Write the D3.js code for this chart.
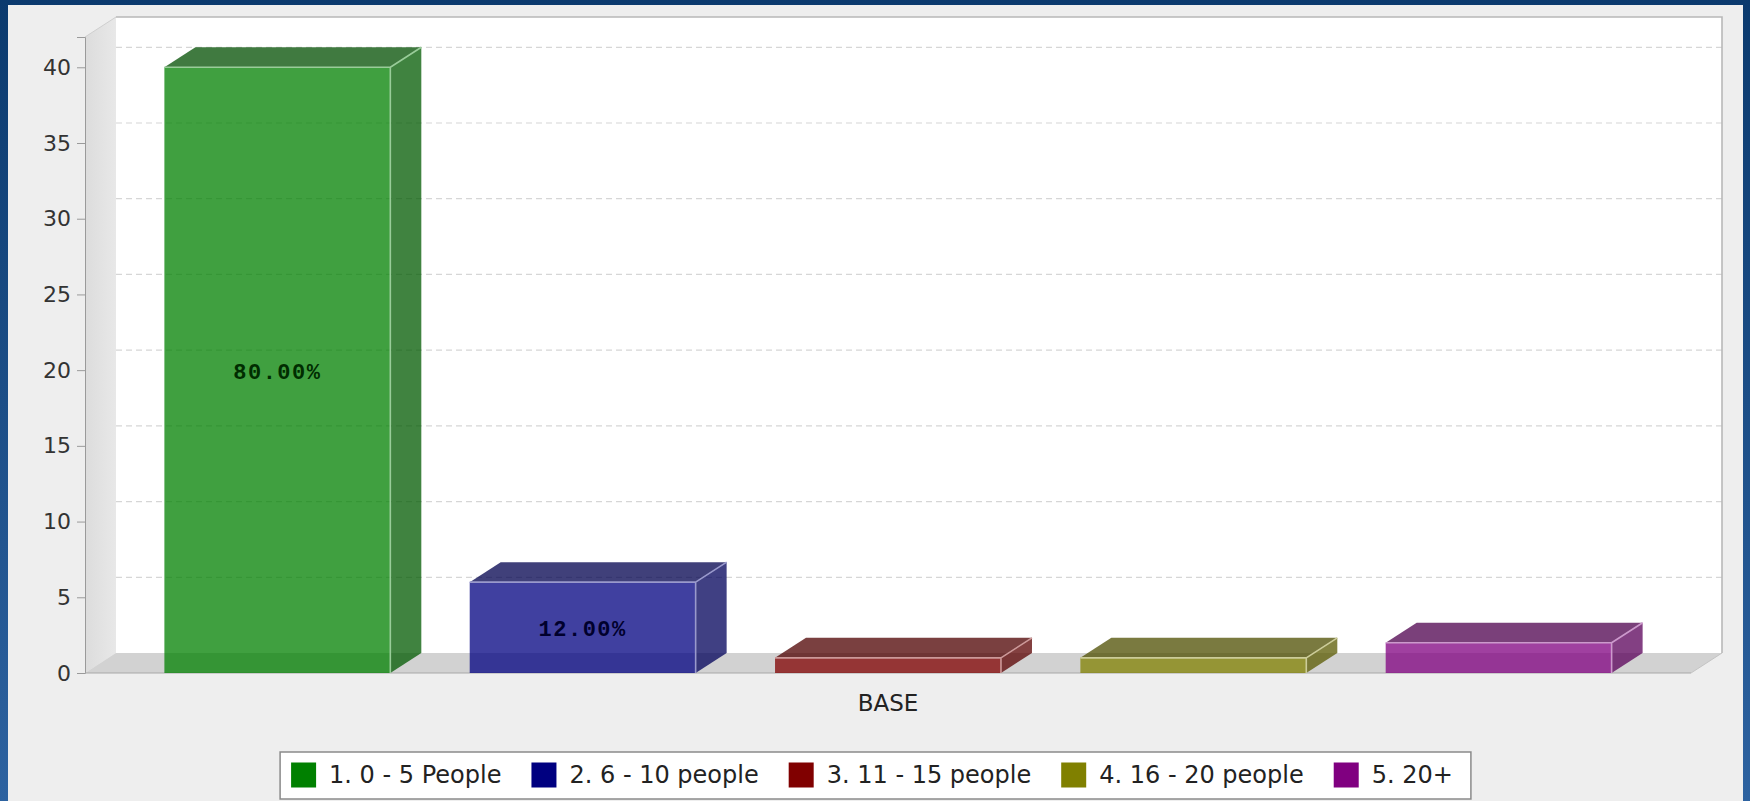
<!DOCTYPE html>
<html>
<head>
<meta charset="utf-8">
<script src="https://cdn.jsdelivr.net/npm/d3@7/dist/d3.min.js"></script>
<style>
  html, body { margin: 0; padding: 0; background: #0b3a6e; }
  svg { display: block; }
</style>
</head>
<body>
<svg id="chart" width="1750" height="801"></svg>
<script>
// Team size distribution (single category, five series)
const categories = ["BASE"];
const seriesNames = ["1. 0 - 5 People", "2. 6 - 10 people", "3. 11 - 15 people", "4. 16 - 20 people", "5. 20+"];
const seriesValues = [40, 6, 1, 1, 2];
const seriesColors = ["#008000", "#000080", "#800000", "#808000", "#800080"];
const yTickValues = [0, 5, 10, 15, 20, 25, 30, 35, 40];
const yMax = 42;

const W = 1750, H = 801;
const uiFont = "'DejaVu Sans', Verdana, sans-serif";
const svg = d3.select("#chart");
const defs = svg.append("defs");

// page frame gradient
const bgGrad = defs.append("linearGradient").attr("id", "bg").attr("x1", 0).attr("y1", 0).attr("x2", 0).attr("y2", 1);
bgGrad.append("stop").attr("offset", "0%").attr("stop-color", "#0b3a6e");
bgGrad.append("stop").attr("offset", "100%").attr("stop-color", "#2d62a0");
svg.append("rect").attr("width", W).attr("height", H).attr("fill", "url(#bg)");

// chart panel
const panel = { x: 8, y: 5, w: 1735, h: 796 };
svg.append("rect").attr("x", panel.x).attr("y", panel.y).attr("width", panel.w).attr("height", panel.h).attr("fill", "#eeeeee");

// 3D plot geometry
const depthX = 31, depthY = 20;
const plotLeft = 85, plotRight = 1691, plotBottom = 673, plotTop = 37;

const y = d3.scaleLinear().domain([0, yMax]).range([plotBottom, plotTop]);
const xCat = d3.scaleBand().domain(categories).range([plotLeft, plotRight]).padding(0);
const xSeries = d3.scaleBand().domain(seriesNames).range([0, xCat.bandwidth()])
  .paddingInner(0.26).paddingOuter(0.26);

// left wall
const wallGrad = defs.append("linearGradient").attr("id", "wall").attr("x1", 0).attr("y1", 0).attr("x2", 1).attr("y2", 0);
wallGrad.append("stop").attr("offset", "0%").attr("stop-color", "#dcdcdc");
wallGrad.append("stop").attr("offset", "100%").attr("stop-color", "#e8e8e8");
svg.append("polygon")
  .attr("points", [[plotLeft, plotTop], [plotLeft + depthX, plotTop - depthY], [plotLeft + depthX, plotBottom - depthY], [plotLeft, plotBottom]].join(" "))
  .attr("fill", "url(#wall)");

// back wall
svg.append("rect")
  .attr("x", plotLeft + depthX).attr("y", plotTop - depthY)
  .attr("width", plotRight - plotLeft).attr("height", plotBottom - plotTop)
  .attr("fill", "#ffffff");

// floor
svg.append("polygon")
  .attr("points", [[plotLeft, plotBottom], [plotLeft + depthX, plotBottom - depthY], [plotRight + depthX, plotBottom - depthY], [plotRight, plotBottom]].join(" "))
  .attr("fill", "#d2d2d2");

// grid lines on the back wall
svg.append("g").selectAll("line").data(yTickValues.filter(d => d > 0)).join("line")
  .attr("x1", plotLeft + depthX).attr("x2", plotRight + depthX)
  .attr("y1", d => y(d) - depthY).attr("y2", d => y(d) - depthY)
  .attr("stroke", "#d6d6d6").attr("stroke-width", 1.2).attr("stroke-dasharray", "6,4");

// back wall border (top and right)
svg.append("path")
  .attr("d", `M${plotLeft + depthX},${plotTop - depthY}H${plotRight + depthX}V${plotBottom - depthY}`)
  .attr("fill", "none").attr("stroke", "#b8b8b8").attr("stroke-width", 1.6);
svg.append("line")
  .attr("x1", plotLeft).attr("y1", plotTop).attr("x2", plotLeft + depthX).attr("y2", plotTop - depthY)
  .attr("stroke", "#cfcfcf");
svg.append("line")
  .attr("x1", plotRight).attr("y1", plotBottom).attr("x2", plotRight + depthX).attr("y2", plotBottom - depthY)
  .attr("stroke", "#c4c4c4");

// y axis
const yAxis = d3.axisLeft(y).tickValues(yTickValues).tickSize(8).tickPadding(6);
const gy = svg.append("g").attr("transform", `translate(${plotLeft},0)`).call(yAxis);
gy.select(".domain").attr("stroke", "#9a9a9a");
gy.selectAll(".tick line").attr("stroke", "#9a9a9a");
gy.selectAll(".tick text").attr("fill", "#333")
  .style("font-family", uiFont).style("font-size", "22px");

// x axis (category)
svg.append("line").attr("x1", plotLeft).attr("x2", plotRight).attr("y1", plotBottom).attr("y2", plotBottom)
  .attr("stroke", "#a8a8a8");
const xAxis = d3.axisBottom(xCat).tickSize(0);
const gx = svg.append("g").attr("transform", `translate(0,${plotBottom})`).call(xAxis);
gx.select(".domain").remove();
gx.selectAll(".tick text").attr("fill", "#222").attr("y", 38).attr("dy", 0)
  .style("font-family", uiFont).style("font-size", "23px");

// bars
const total = d3.sum(seriesValues);
const scaleColor = (c, k) => { const r = d3.rgb(c); return d3.rgb(r.r * k, r.g * k, r.b * k).formatHex(); };
const bars = seriesNames.map((name, i) => ({
  name, value: seriesValues[i], color: seriesColors[i],
  x0: xCat(categories[0]) + xSeries(name),
  x1: xCat(categories[0]) + xSeries(name) + xSeries.bandwidth()
}));

const gBars = svg.append("g");
bars.forEach(b => {
  const yv = y(b.value), y0 = y(0);
  const g = gBars.append("g");
  // top face
  g.append("polygon")
    .attr("points", [[b.x0, yv], [b.x0 + depthX, yv - depthY], [b.x1 + depthX, yv - depthY], [b.x1, yv]].join(" "))
    .attr("fill", scaleColor(b.color, 0.6)).attr("fill-opacity", 0.75);
  // side face
  g.append("polygon")
    .attr("points", [[b.x1, yv], [b.x1 + depthX, yv - depthY], [b.x1 + depthX, y0 - depthY], [b.x1, y0]].join(" "))
    .attr("fill", scaleColor(b.color, 0.7)).attr("fill-opacity", 0.75);
  // front face
  g.append("rect")
    .attr("x", b.x0).attr("y", yv).attr("width", b.x1 - b.x0).attr("height", y0 - yv)
    .attr("fill", b.color).attr("fill-opacity", 0.75);
  // highlighted edges
  g.append("path")
    .attr("d", `M${b.x0},${yv}H${b.x1}V${y0}M${b.x1},${yv}L${b.x1 + depthX},${yv - depthY}`)
    .attr("fill", "none").attr("stroke", d3.interpolateRgb(b.color, "#ffffff")(0.6)).attr("stroke-width", 1.6);
  // value label
  if (y0 - yv > 40) {
    g.append("text")
      .attr("x", (b.x0 + b.x1) / 2).attr("y", (yv + y0) / 2 + 3)
      .attr("text-anchor", "middle").attr("dominant-baseline", "central")
      .attr("fill", scaleColor(b.color, 0.35))
      .style("font-family", "'Liberation Mono', 'DejaVu Sans Mono', monospace")
      .style("font-weight", "bold").style("font-size", "22px").style("letter-spacing", "1.5px")
      .text(d3.format(".2f")(b.value / total * 100) + "%");
  }
});

// legend
const legend = svg.append("g");
const legendBox = legend.append("rect").attr("fill", "#ffffff").attr("stroke", "#8a8a8a").attr("stroke-width", 1.5);
const items = legend.append("g");
let cursor = 0;
const sw = 25, gapAfterSwatch = 13, gapAfterText = 30;
seriesNames.forEach((name, i) => {
  items.append("rect").attr("x", cursor).attr("y", -sw / 2).attr("width", sw).attr("height", sw)
    .attr("fill", seriesColors[i]);
  cursor += sw + gapAfterSwatch;
  const t = items.append("text").attr("x", cursor).attr("y", 0).attr("dominant-baseline", "central")
    .attr("fill", "#222")
    .style("font-family", uiFont).style("font-size", "24px")
    .text(name);
  cursor += t.node().getComputedTextLength();
  if (i < seriesNames.length - 1) cursor += gapAfterText;
});
const padL = 11, padR = 18;
const boxW = cursor + padL + padR;
const boxX = panel.x + panel.w / 2 - boxW / 2;
items.attr("transform", `translate(${boxX + padL},775)`);
legendBox.attr("x", boxX).attr("y", 752).attr("width", boxW).attr("height", 47);
</script>
</body>
</html>
